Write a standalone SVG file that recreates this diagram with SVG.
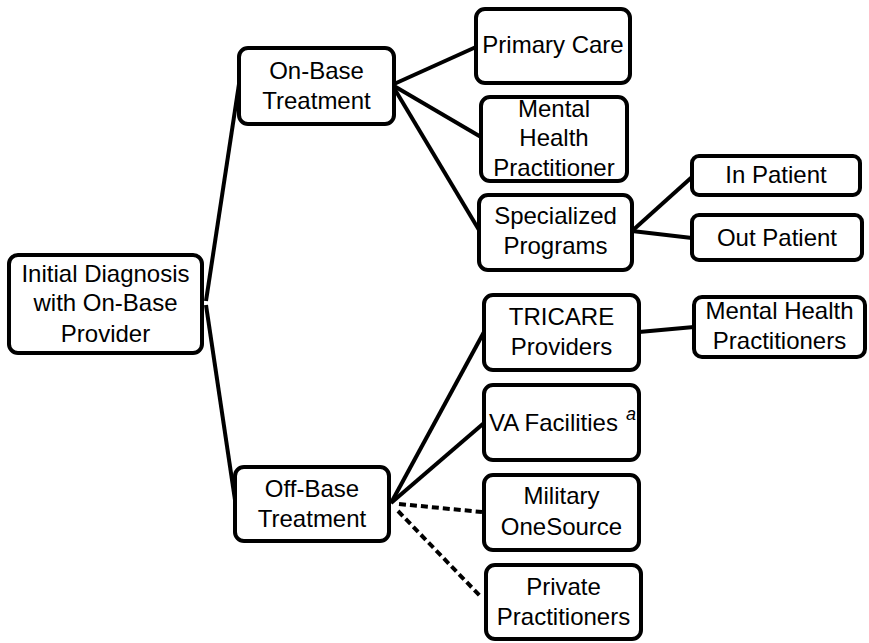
<svg xmlns="http://www.w3.org/2000/svg" width="869" height="643" viewBox="0 0 869 643">
<style>
.box{fill:#fff;stroke:#000;stroke-width:4}
.c{fill:none;stroke:#000;stroke-width:4}
.d{fill:none;stroke:#000;stroke-width:4;stroke-dasharray:7 4}
text{font-family:"Liberation Sans",Arial,sans-serif;font-size:24px;fill:#000;text-anchor:middle}
</style>
<rect width="869" height="643" fill="#fff"/>
<g id="connectors">
<line class="c" x1="206" y1="301" x2="239" y2="84"/>
<line class="c" x1="206" y1="305" x2="235" y2="500"/>
<line class="c" x1="394" y1="84" x2="476" y2="47"/>
<line class="c" x1="394" y1="86" x2="481" y2="137"/>
<line class="c" x1="394" y1="88" x2="479" y2="230"/>
<line class="c" x1="632" y1="231" x2="692" y2="177"/>
<line class="c" x1="632" y1="231" x2="692" y2="238"/>
<line class="c" x1="391" y1="503" x2="484" y2="332"/>
<line class="c" x1="391" y1="503" x2="484" y2="423"/>
<line class="d" x1="399" y1="504" x2="482" y2="512"/>
<line class="d" x1="398" y1="511" x2="482" y2="598"/>
<line class="c" x1="639" y1="332" x2="694" y2="327"/>
</g>
<g id="initial">
<rect class="box" x="9" y="255" width="193" height="98" rx="9"/>
<text x="105.5" y="282">Initial Diagnosis</text>
<text x="105.5" y="311">with On-Base</text>
<text x="105.5" y="342">Provider</text>
</g>
<g id="onbase">
<rect class="box" x="239" y="48" width="155" height="76" rx="9"/>
<text x="316.5" y="79">On-Base</text>
<text x="316.5" y="109">Treatment</text>
</g>
<g id="offbase">
<rect class="box" x="235" y="467" width="154" height="74" rx="9"/>
<text x="312" y="497">Off-Base</text>
<text x="312" y="527">Treatment</text>
</g>
<g id="primary">
<rect class="box" x="476" y="9" width="154" height="74" rx="9"/>
<text x="553" y="53">Primary Care</text>
</g>
<g id="mhp">
<rect class="box" x="481" y="97" width="146" height="84" rx="9"/>
<text x="554" y="117">Mental</text>
<text x="554" y="146">Health</text>
<text x="554" y="176">Practitioner</text>
</g>
<g id="specialized">
<rect class="box" x="479" y="195" width="153" height="75" rx="9"/>
<text x="555.5" y="224">Specialized</text>
<text x="555.5" y="254">Programs</text>
</g>
<g id="inpatient">
<rect class="box" x="692" y="156" width="168" height="39" rx="7"/>
<text x="776" y="183">In Patient</text>
</g>
<g id="outpatient">
<rect class="box" x="692" y="215" width="170" height="45" rx="7"/>
<text x="777" y="246">Out Patient</text>
</g>
<g id="tricare">
<rect class="box" x="484" y="295" width="155" height="75" rx="9"/>
<text x="561.5" y="325">TRICARE</text>
<text x="561.5" y="355">Providers</text>
</g>
<g id="mhpractitioners">
<rect class="box" x="694" y="297" width="171" height="60" rx="8"/>
<text x="779.5" y="319">Mental Health</text>
<text x="779.5" y="349">Practitioners</text>
</g>
<g id="va">
<rect class="box" x="484" y="385" width="155" height="75" rx="9"/>
<text x="489" y="431" style="text-anchor:start">VA Facilities</text>
<text x="626" y="420" style="text-anchor:start;font-size:18px;font-style:italic">a</text>
</g>
<g id="military">
<rect class="box" x="484" y="475" width="155" height="75" rx="9"/>
<text x="561.5" y="504">Military</text>
<text x="561.5" y="535">OneSource</text>
</g>
<g id="private">
<rect class="box" x="486" y="565" width="155" height="74" rx="9"/>
<text x="563.5" y="595">Private</text>
<text x="563.5" y="625">Practitioners</text>
</g>
</svg>
